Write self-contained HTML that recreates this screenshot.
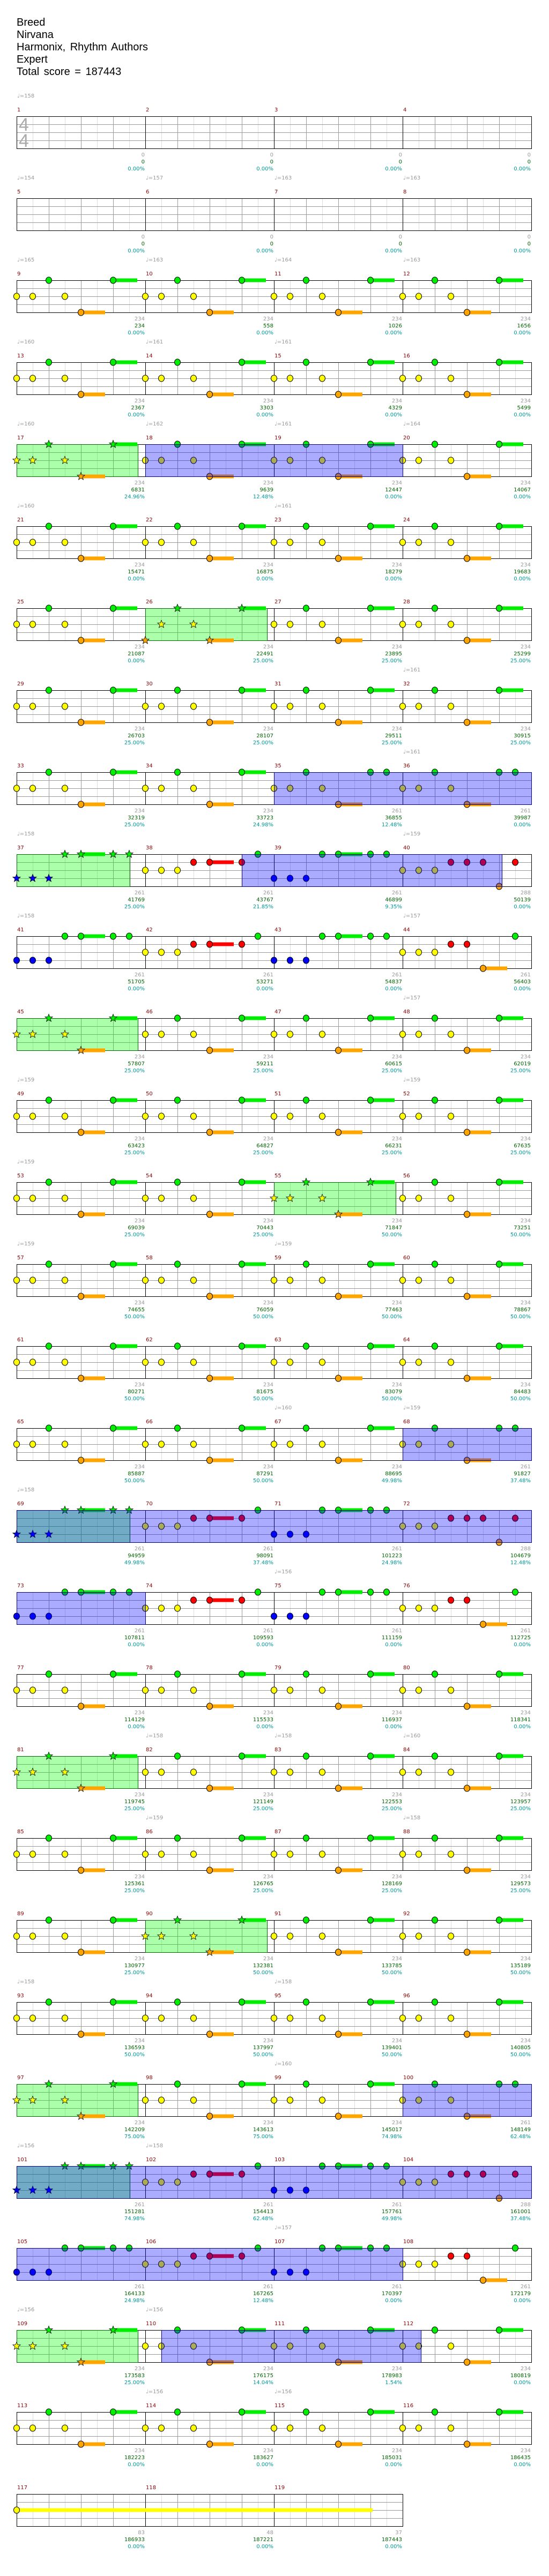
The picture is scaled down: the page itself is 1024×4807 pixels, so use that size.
<!DOCTYPE html>
<html><head><meta charset="utf-8">
<style>
html,body{margin:0;padding:0;background:#fff}
body{width:1024px;height:4807px;position:relative;overflow:hidden;font-family:"DejaVu Sans","Liberation Sans",sans-serif;font-size:10px}
#hd{position:absolute;left:31px;top:31px;font:20px/23px "Liberation Sans",sans-serif;color:#000;word-spacing:3px}
#sv{position:absolute;left:0;top:0}
.r{position:absolute;left:0;width:1024px;height:1px}
.r span{position:absolute;white-space:nowrap;line-height:12px}
.t{top:-43px;color:#999}
.n{top:-17px;color:#8b0000}
.k0{left:32px}.k1{left:272px}.k2{left:512px}.k3{left:752px}
.s{position:absolute;top:66px;width:100px;margin:0;text-align:right;line-height:13px;color:#999}
.s b{display:block;font-weight:normal;color:#006400}
.s i{display:block;font-style:normal;color:#009999}
.e0{left:170px}.e1{left:410px}.e2{left:650px}.e3{left:890px}
.ts{position:absolute;left:35px;font:34px/30px "Liberation Sans",sans-serif;color:#aaa}
</style></head><body>
<svg id="sv" width="1024" height="4807" xmlns="http://www.w3.org/2000/svg"></svg>
<div id="hd">Breed<br>Nirvana<br>Harmonix, Rhythm Authors<br>Expert<br>Total score = 187443</div>
<div class="ts" style="top:218px">4</div>
<div class="ts" style="top:248px">4</div>

<div class="r" style="top:217px"><span class="t k0">♩=158</span>
<span class="n k0">1</span><span class="n k1">2</span><span class="n k2">3</span><span class="n k3">4</span>
<p class="s e0">0<b>0</b><i>0.00%</i></p><p class="s e1">0<b>0</b><i>0.00%</i></p><p class="s e2">0<b>0</b><i>0.00%</i></p><p class="s e3">0<b>0</b><i>0.00%</i></p></div>

<div class="r" style="top:370px"><span class="t k0">♩=154</span><span class="t k1">♩=157</span><span class="t k2">♩=163</span><span class="t k3">♩=163</span>
<span class="n k0">5</span><span class="n k1">6</span><span class="n k2">7</span><span class="n k3">8</span>
<p class="s e0">0<b>0</b><i>0.00%</i></p><p class="s e1">0<b>0</b><i>0.00%</i></p><p class="s e2">0<b>0</b><i>0.00%</i></p><p class="s e3">0<b>0</b><i>0.00%</i></p></div>

<div class="r" style="top:523px"><span class="t k0">♩=165</span><span class="t k1">♩=163</span><span class="t k2">♩=164</span><span class="t k3">♩=163</span>
<span class="n k0">9</span><span class="n k1">10</span><span class="n k2">11</span><span class="n k3">12</span>
<p class="s e0">234<b>234</b><i>0.00%</i></p><p class="s e1">234<b>558</b><i>0.00%</i></p><p class="s e2">234<b>1026</b><i>0.00%</i></p><p class="s e3">234<b>1656</b><i>0.00%</i></p></div>

<div class="r" style="top:676px"><span class="t k0">♩=160</span><span class="t k1">♩=161</span><span class="t k2">♩=161</span>
<span class="n k0">13</span><span class="n k1">14</span><span class="n k2">15</span><span class="n k3">16</span>
<p class="s e0">234<b>2367</b><i>0.00%</i></p><p class="s e1">234<b>3303</b><i>0.00%</i></p><p class="s e2">234<b>4329</b><i>0.00%</i></p><p class="s e3">234<b>5499</b><i>0.00%</i></p></div>

<div class="r" style="top:829px"><span class="t k0">♩=160</span><span class="t k1">♩=162</span><span class="t k2">♩=161</span><span class="t k3">♩=164</span>
<span class="n k0">17</span><span class="n k1">18</span><span class="n k2">19</span><span class="n k3">20</span>
<p class="s e0">234<b>6831</b><i>24.96%</i></p><p class="s e1">234<b>9639</b><i>12.48%</i></p><p class="s e2">234<b>12447</b><i>0.00%</i></p><p class="s e3">234<b>14067</b><i>0.00%</i></p></div>

<div class="r" style="top:982px"><span class="t k0">♩=160</span><span class="t k2">♩=161</span>
<span class="n k0">21</span><span class="n k1">22</span><span class="n k2">23</span><span class="n k3">24</span>
<p class="s e0">234<b>15471</b><i>0.00%</i></p><p class="s e1">234<b>16875</b><i>0.00%</i></p><p class="s e2">234<b>18279</b><i>0.00%</i></p><p class="s e3">234<b>19683</b><i>0.00%</i></p></div>

<div class="r" style="top:1135px">
<span class="n k0">25</span><span class="n k1">26</span><span class="n k2">27</span><span class="n k3">28</span>
<p class="s e0">234<b>21087</b><i>0.00%</i></p><p class="s e1">234<b>22491</b><i>25.00%</i></p><p class="s e2">234<b>23895</b><i>25.00%</i></p><p class="s e3">234<b>25299</b><i>25.00%</i></p></div>

<div class="r" style="top:1288px"><span class="t k3">♩=161</span>
<span class="n k0">29</span><span class="n k1">30</span><span class="n k2">31</span><span class="n k3">32</span>
<p class="s e0">234<b>26703</b><i>25.00%</i></p><p class="s e1">234<b>28107</b><i>25.00%</i></p><p class="s e2">234<b>29511</b><i>25.00%</i></p><p class="s e3">234<b>30915</b><i>25.00%</i></p></div>

<div class="r" style="top:1441px"><span class="t k3">♩=161</span>
<span class="n k0">33</span><span class="n k1">34</span><span class="n k2">35</span><span class="n k3">36</span>
<p class="s e0">234<b>32319</b><i>25.00%</i></p><p class="s e1">234<b>33723</b><i>24.98%</i></p><p class="s e2">261<b>36855</b><i>12.48%</i></p><p class="s e3">261<b>39987</b><i>0.00%</i></p></div>

<div class="r" style="top:1594px"><span class="t k0">♩=158</span><span class="t k3">♩=159</span>
<span class="n k0">37</span><span class="n k1">38</span><span class="n k2">39</span><span class="n k3">40</span>
<p class="s e0">261<b>41769</b><i>25.00%</i></p><p class="s e1">261<b>43767</b><i>21.85%</i></p><p class="s e2">261<b>46899</b><i>9.35%</i></p><p class="s e3">288<b>50139</b><i>0.00%</i></p></div>

<div class="r" style="top:1747px"><span class="t k0">♩=158</span><span class="t k3">♩=157</span>
<span class="n k0">41</span><span class="n k1">42</span><span class="n k2">43</span><span class="n k3">44</span>
<p class="s e0">261<b>51705</b><i>0.00%</i></p><p class="s e1">261<b>53271</b><i>0.00%</i></p><p class="s e2">261<b>54837</b><i>0.00%</i></p><p class="s e3">261<b>56403</b><i>0.00%</i></p></div>

<div class="r" style="top:1900px"><span class="t k3">♩=157</span>
<span class="n k0">45</span><span class="n k1">46</span><span class="n k2">47</span><span class="n k3">48</span>
<p class="s e0">234<b>57807</b><i>25.00%</i></p><p class="s e1">234<b>59211</b><i>25.00%</i></p><p class="s e2">234<b>60615</b><i>25.00%</i></p><p class="s e3">234<b>62019</b><i>25.00%</i></p></div>

<div class="r" style="top:2053px"><span class="t k0">♩=159</span><span class="t k3">♩=159</span>
<span class="n k0">49</span><span class="n k1">50</span><span class="n k2">51</span><span class="n k3">52</span>
<p class="s e0">234<b>63423</b><i>25.00%</i></p><p class="s e1">234<b>64827</b><i>25.00%</i></p><p class="s e2">234<b>66231</b><i>25.00%</i></p><p class="s e3">234<b>67635</b><i>25.00%</i></p></div>

<div class="r" style="top:2206px"><span class="t k0">♩=159</span>
<span class="n k0">53</span><span class="n k1">54</span><span class="n k2">55</span><span class="n k3">56</span>
<p class="s e0">234<b>69039</b><i>25.00%</i></p><p class="s e1">234<b>70443</b><i>25.00%</i></p><p class="s e2">234<b>71847</b><i>50.00%</i></p><p class="s e3">234<b>73251</b><i>50.00%</i></p></div>

<div class="r" style="top:2359px"><span class="t k0">♩=159</span><span class="t k2">♩=159</span>
<span class="n k0">57</span><span class="n k1">58</span><span class="n k2">59</span><span class="n k3">60</span>
<p class="s e0">234<b>74655</b><i>50.00%</i></p><p class="s e1">234<b>76059</b><i>50.00%</i></p><p class="s e2">234<b>77463</b><i>50.00%</i></p><p class="s e3">234<b>78867</b><i>50.00%</i></p></div>

<div class="r" style="top:2512px">
<span class="n k0">61</span><span class="n k1">62</span><span class="n k2">63</span><span class="n k3">64</span>
<p class="s e0">234<b>80271</b><i>50.00%</i></p><p class="s e1">234<b>81675</b><i>50.00%</i></p><p class="s e2">234<b>83079</b><i>50.00%</i></p><p class="s e3">234<b>84483</b><i>50.00%</i></p></div>

<div class="r" style="top:2665px"><span class="t k2">♩=160</span><span class="t k3">♩=159</span>
<span class="n k0">65</span><span class="n k1">66</span><span class="n k2">67</span><span class="n k3">68</span>
<p class="s e0">234<b>85887</b><i>50.00%</i></p><p class="s e1">234<b>87291</b><i>50.00%</i></p><p class="s e2">234<b>88695</b><i>49.98%</i></p><p class="s e3">261<b>91827</b><i>37.48%</i></p></div>

<div class="r" style="top:2818px"><span class="t k0">♩=158</span>
<span class="n k0">69</span><span class="n k1">70</span><span class="n k2">71</span><span class="n k3">72</span>
<p class="s e0">261<b>94959</b><i>49.98%</i></p><p class="s e1">261<b>98091</b><i>37.48%</i></p><p class="s e2">261<b>101223</b><i>24.98%</i></p><p class="s e3">288<b>104679</b><i>12.48%</i></p></div>

<div class="r" style="top:2971px"><span class="t k2">♩=156</span>
<span class="n k0">73</span><span class="n k1">74</span><span class="n k2">75</span><span class="n k3">76</span>
<p class="s e0">261<b>107811</b><i>0.00%</i></p><p class="s e1">261<b>109593</b><i>0.00%</i></p><p class="s e2">261<b>111159</b><i>0.00%</i></p><p class="s e3">261<b>112725</b><i>0.00%</i></p></div>

<div class="r" style="top:3124px">
<span class="n k0">77</span><span class="n k1">78</span><span class="n k2">79</span><span class="n k3">80</span>
<p class="s e0">234<b>114129</b><i>0.00%</i></p><p class="s e1">234<b>115533</b><i>0.00%</i></p><p class="s e2">234<b>116937</b><i>0.00%</i></p><p class="s e3">234<b>118341</b><i>0.00%</i></p></div>

<div class="r" style="top:3277px"><span class="t k1">♩=158</span><span class="t k2">♩=158</span><span class="t k3">♩=160</span>
<span class="n k0">81</span><span class="n k1">82</span><span class="n k2">83</span><span class="n k3">84</span>
<p class="s e0">234<b>119745</b><i>25.00%</i></p><p class="s e1">234<b>121149</b><i>25.00%</i></p><p class="s e2">234<b>122553</b><i>25.00%</i></p><p class="s e3">234<b>123957</b><i>25.00%</i></p></div>

<div class="r" style="top:3430px"><span class="t k1">♩=159</span><span class="t k3">♩=158</span>
<span class="n k0">85</span><span class="n k1">86</span><span class="n k2">87</span><span class="n k3">88</span>
<p class="s e0">234<b>125361</b><i>25.00%</i></p><p class="s e1">234<b>126765</b><i>25.00%</i></p><p class="s e2">234<b>128169</b><i>25.00%</i></p><p class="s e3">234<b>129573</b><i>25.00%</i></p></div>

<div class="r" style="top:3583px">
<span class="n k0">89</span><span class="n k1">90</span><span class="n k2">91</span><span class="n k3">92</span>
<p class="s e0">234<b>130977</b><i>25.00%</i></p><p class="s e1">234<b>132381</b><i>50.00%</i></p><p class="s e2">234<b>133785</b><i>50.00%</i></p><p class="s e3">234<b>135189</b><i>50.00%</i></p></div>

<div class="r" style="top:3736px"><span class="t k0">♩=158</span><span class="t k2">♩=158</span>
<span class="n k0">93</span><span class="n k1">94</span><span class="n k2">95</span><span class="n k3">96</span>
<p class="s e0">234<b>136593</b><i>50.00%</i></p><p class="s e1">234<b>137997</b><i>50.00%</i></p><p class="s e2">234<b>139401</b><i>50.00%</i></p><p class="s e3">234<b>140805</b><i>50.00%</i></p></div>

<div class="r" style="top:3889px"><span class="t k2">♩=160</span>
<span class="n k0">97</span><span class="n k1">98</span><span class="n k2">99</span><span class="n k3">100</span>
<p class="s e0">234<b>142209</b><i>75.00%</i></p><p class="s e1">234<b>143613</b><i>75.00%</i></p><p class="s e2">234<b>145017</b><i>74.98%</i></p><p class="s e3">261<b>148149</b><i>62.48%</i></p></div>

<div class="r" style="top:4042px"><span class="t k0">♩=156</span><span class="t k1">♩=158</span>
<span class="n k0">101</span><span class="n k1">102</span><span class="n k2">103</span><span class="n k3">104</span>
<p class="s e0">261<b>151281</b><i>74.98%</i></p><p class="s e1">261<b>154413</b><i>62.48%</i></p><p class="s e2">261<b>157761</b><i>49.98%</i></p><p class="s e3">288<b>161001</b><i>37.48%</i></p></div>

<div class="r" style="top:4195px"><span class="t k2">♩=157</span>
<span class="n k0">105</span><span class="n k1">106</span><span class="n k2">107</span><span class="n k3">108</span>
<p class="s e0">261<b>164133</b><i>24.98%</i></p><p class="s e1">261<b>167265</b><i>12.48%</i></p><p class="s e2">261<b>170397</b><i>0.00%</i></p><p class="s e3">261<b>172179</b><i>0.00%</i></p></div>

<div class="r" style="top:4348px"><span class="t k0">♩=156</span><span class="t k1">♩=156</span>
<span class="n k0">109</span><span class="n k1">110</span><span class="n k2">111</span><span class="n k3">112</span>
<p class="s e0">234<b>173583</b><i>25.00%</i></p><p class="s e1">234<b>176175</b><i>14.04%</i></p><p class="s e2">234<b>178983</b><i>1.54%</i></p><p class="s e3">234<b>180819</b><i>0.00%</i></p></div>

<div class="r" style="top:4501px"><span class="t k1">♩=156</span><span class="t k2">♩=156</span>
<span class="n k0">113</span><span class="n k1">114</span><span class="n k2">115</span><span class="n k3">116</span>
<p class="s e0">234<b>182223</b><i>0.00%</i></p><p class="s e1">234<b>183627</b><i>0.00%</i></p><p class="s e2">234<b>185031</b><i>0.00%</i></p><p class="s e3">234<b>186435</b><i>0.00%</i></p></div>

<div class="r" style="top:4654px">
<span class="n k0">117</span><span class="n k1">118</span><span class="n k2">119</span>
<p class="s e0">83<b>186933</b><i>0.00%</i></p><p class="s e1">48<b>187221</b><i>0.00%</i></p><p class="s e2">37<b>187443</b><i>0.00%</i></p></div>

<script>
(function(){
var P={
A:[[0,2],[30,2],[90,2],[60,0],[180,0,45],[120,4,45]],
Z:[[0,4],[30,2],[90,2],[60,0],[180,0,45],[120,4,45]],
Ap:[[0,2],[30,2],[90,2],[60,0],[180,0],[210,0],[120,4,45]],
C1:[[0,3],[30,3],[60,3],[90,0],[120,0,45],[180,0],[210,0]],
C2:[[0,2],[30,2],[60,2],[90,1],[120,1,45],[180,1],[210,0]],
C4:[[0,2],[30,2],[60,2],[90,1],[120,1],[150,4,45],[210,0]],
C4p:[[0,2],[30,2],[60,2],[90,1],[120,1],[150,1],[210,1],[180,4]],
E:[]};
var A4=['A','A','A','A'],CC=['C1','C2','C1','C4'],Cp=['C1','C2','C1','C4p'],E4=['E','E','E','E'];
var R=[
[E4],[E4],[A4],[A4],[A4,[[0,226]],[[240,720]]],[A4],[['A','Z','A','A'],[[240,467]]],[A4],
[['A','A','Ap','Ap'],0,[[480,960]]],[Cp,[[0,211]],[[420,905]]],[CC],[A4,[[0,226]]],[A4],[A4,[[480,707]]],[A4],[A4],
[['A','A','A','Ap'],0,[[720,960]]],[Cp,[[0,211]],[[0,960]]],[CC,0,[[0,240]]],[A4],[A4,[[0,226]]],[A4],[A4,[[240,467]]],[A4],
[['A','A','A','Ap'],[[0,226]],[[720,960]]],[Cp,[[0,211]],[[0,960]]],[CC,0,[[0,720]]],[A4,[[0,226]],[[270,754]]],[A4],[['E','E','E']]];
var COL=['#00ee00','#ff0000','#ffff00','#0000ff','#ffa500'];
var X0=31,s='';
function star(cx,cy,f){var p=[];for(var k=0;k<10;k++){var r=k%2?3.2:7.5,a=-Math.PI/2+k*Math.PI/5;p.push((cx+r*Math.cos(a)).toFixed(1)+','+(cy+r*Math.sin(a)).toFixed(1));}
return '<polygon points="'+p.join(' ')+'" fill="'+f+'" stroke="#000" stroke-width="0.8"/>';}
R.forEach(function(r,i){
var T=217+153*i,n=r[0].length,W=n*240,g=r[1]||[],b=r[2]||[];
for(var k=1;k<n*8;k++){if(k%8==0)continue;var x=X0+k*30+.5;s+='<line x1="'+x+'" y1="'+T+'" x2="'+x+'" y2="'+(T+60)+'" stroke="'+(k%2?'#dddddd':'#999999')+'"/>';}
for(var l=1;l<4;l++){var y=T+l*15+.5;s+='<line x1="'+X0+'" y1="'+y+'" x2="'+(X0+W)+'" y2="'+y+'" stroke="#999999"/>';}
for(var m=1;m<n;m++){var x2=X0+m*240+.5;s+='<line x1="'+x2+'" y1="'+T+'" x2="'+x2+'" y2="'+(T+60)+'" stroke="#000"/>';}
s+='<rect x="'+(X0+.5)+'" y="'+(T+.5)+'" width="'+W+'" height="60" fill="none" stroke="#000"/>';
g.forEach(function(q){s+='<rect x="'+(X0+q[0]+.5)+'" y="'+(T+.5)+'" width="'+(q[1]-q[0])+'" height="60" fill="rgba(0,255,0,0.33)" stroke="#006600"/>';});
var notes=[];
r[0].forEach(function(p,m){P[p].forEach(function(nn){notes.push([m*240+nn[0],nn[1],nn[2]]);});});
if(i==29)notes.push([0,2,664]);
notes.forEach(function(nn){if(nn[2])s+='<rect x="'+(X0+nn[0])+'" y="'+(T+nn[1]*15-3.5)+'" width="'+nn[2]+'" height="7" fill="'+COL[nn[1]]+'"/>';});
notes.forEach(function(nn){var cx=X0+nn[0],cy=T+nn[1]*15,x=nn[0];
var st=g.some(function(q){return x>=q[0]-1&&x<=q[1]+1;});
if(st)s+=star(cx,cy,COL[nn[1]]);else s+='<ellipse cx="'+cx+'" cy="'+cy+'" rx="5.5" ry="6" fill="'+COL[nn[1]]+'" stroke="#000" stroke-width="1"/>';});
b.forEach(function(q){s+='<rect x="'+(X0+q[0]+.5)+'" y="'+(T+.5)+'" width="'+(q[1]-q[0])+'" height="60" fill="rgba(0,0,255,0.33)" stroke="#000080"/>';});
});
document.getElementById('sv').innerHTML=s;
})();
</script>
</body></html>
